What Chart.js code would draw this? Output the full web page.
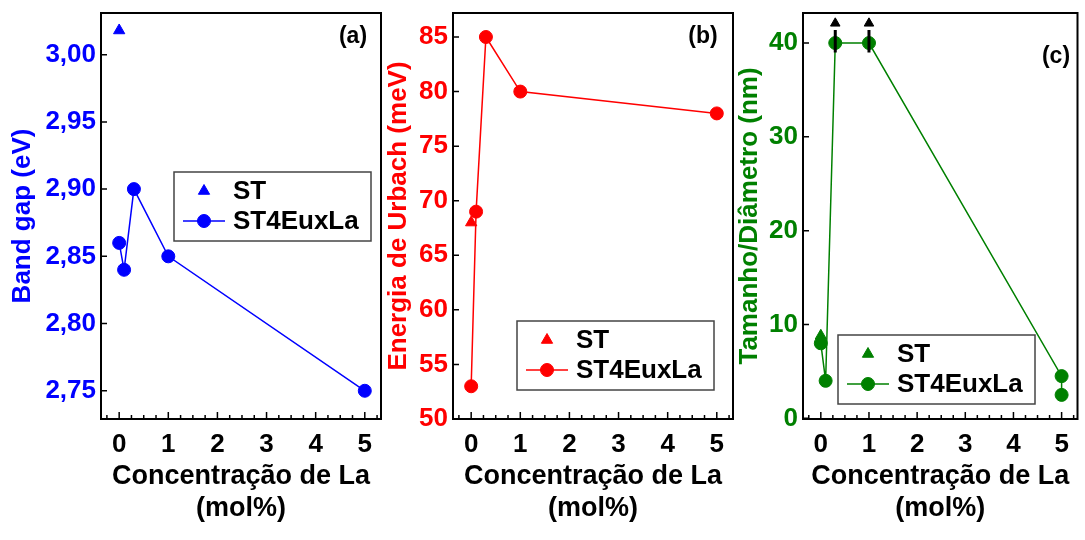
<!DOCTYPE html>
<html>
<head>
<meta charset="utf-8">
<script src="https://cdn.jsdelivr.net/npm/chart.js@4.4.0/dist/chart.umd.min.js"></script>
<style>
  html, body { margin: 0; padding: 0; background: #fff; }
  #wrap { position: relative; width: 1085px; height: 540px; }
  #wrap canvas { position: absolute; left: 0; top: 0; }
</style>
</head>
<body>
<div id="wrap">
  <canvas id="chartA" width="1085" height="540"></canvas>
  <canvas id="chartB" width="1085" height="540"></canvas>
  <canvas id="chartC" width="1085" height="540"></canvas>
</div>
<script>
// La concentration (mol%)
const concST = [0];
const concEuLa = [0, 0.1, 0.3, 1, 5];
const concSize = [0, 0.1, 0.3, 1, 5, 5];
const concTicks = [0, 1, 2, 3, 4, 5];

// (a) band gap (eV)
const bandGapST = [3.018];
const bandGapEuLa = [2.86, 2.84, 2.90, 2.85, 2.75];
const bandGapTicks = [2.75, 2.80, 2.85, 2.90, 2.95, 3.00];

// (b) Urbach energy (meV)
const urbachST = [68];
const urbachEuLa = [53, 69, 85, 80, 78];
const urbachTicks = [50, 55, 60, 65, 70, 75, 80, 85];

// (c) size / diameter (nm)
const sizeST = [8.8];
const sizeEuLa = [8, 4, 40, 40, 4.5, 2.5];
const sizeTicks = [0, 10, 20, 30, 40];
// samples larger than 40 nm -> arrows
const overConc = [0.3, 1];
const overBar = [39, 41.4];
const overHead = [42.1];

const FONT = "'Liberation Sans', Arial, sans-serif";
const BLUE = '#0000ff', RED = '#ff0000', GREEN = '#008000';

const pts = (xs, ys) => xs.map((x, i) => ({ x, y: ys[i] }));

// box + inward ticks
const framePlugin = {
  id: 'frame',
  afterDraw(chart) {
    const { ctx, chartArea: a, scales: { x, y } } = chart;
    ctx.save();
    ctx.strokeStyle = '#000';
    ctx.lineWidth = 1.5;
    ctx.beginPath();
    x.ticks.forEach(t => {
      const px = x.getPixelForValue(t.value);
      ctx.moveTo(px, a.bottom); ctx.lineTo(px, a.bottom - 7);
    });
    for (let v = Math.ceil(x.min * 4) / 4; v <= x.max; v += 0.25) {
      if (Math.abs(v - Math.round(v)) < 1e-6) continue;
      const px = x.getPixelForValue(v);
      ctx.moveTo(px, a.bottom); ctx.lineTo(px, a.bottom - 4);
    }
    y.ticks.forEach(t => {
      const py = y.getPixelForValue(t.value);
      ctx.moveTo(a.left, py); ctx.lineTo(a.left + 6, py);
    });
    ctx.stroke();
    ctx.lineWidth = 2;
    ctx.strokeRect(a.left, a.top, a.right - a.left, a.bottom - a.top);
    ctx.restore();
  }
};

// boxed legend inside the plot
const boxLegend = {
  id: 'boxLegend',
  afterDraw(chart, args, opts) {
    const { ctx } = chart;
    const { left, top, width, height } = opts;
    ctx.save();
    ctx.strokeStyle = '#444';
    ctx.lineWidth = 1.5;
    ctx.strokeRect(left, top, width, height);
    const items = chart.data.datasets.filter(d => d.label);
    items.forEach((d, i) => {
      const cy = top + 19 + i * 30;
      const mx = left + 30;
      ctx.fillStyle = d.backgroundColor;
      ctx.strokeStyle = d.borderColor;
      if (d.showLine) {
        ctx.lineWidth = d.borderWidth;
        ctx.beginPath();
        ctx.moveTo(left + 9, cy); ctx.lineTo(left + 51, cy);
        ctx.stroke();
      }
      ctx.lineWidth = 1;
      Chart.helpers.drawPoint(ctx, { pointStyle: d.pointStyle, radius: d.pointRadius, rotation: 0, borderWidth: 1 }, mx, cy);
      ctx.fillStyle = '#000';
      ctx.font = 'bold 26px ' + FONT;
      ctx.textBaseline = 'middle';
      ctx.textAlign = 'left';
      ctx.fillText(d.label, left + 59, cy + 1);
    });
    ctx.restore();
  }
};

const panelLabel = {
  id: 'panelLabel',
  afterDraw(chart, args, opts) {
    const { ctx } = chart;
    ctx.save();
    ctx.font = 'bold 23px ' + FONT;
    ctx.fillStyle = '#000';
    ctx.textAlign = 'center';
    ctx.textBaseline = 'middle';
    ctx.fillText(opts.text, opts.x, opts.y);
    ctx.restore();
  }
};

function makePanel(id, cfg) {
  const datasets = [
    {
      label: 'ST', data: pts(concST, cfg.st), showLine: false,
      pointStyle: 'triangle', pointRadius: 6.5, pointBorderWidth: 1,
      backgroundColor: cfg.color, borderColor: cfg.color, order: 2
    },
    {
      label: 'ST4EuxLa', data: pts(cfg.conc, cfg.series), showLine: true,
      pointStyle: 'circle', pointRadius: 6.5, pointBorderWidth: 1,
      borderWidth: 1.5, backgroundColor: cfg.color, borderColor: cfg.color, order: 1
    }
  ].concat(cfg.extra || []);

  return new Chart(document.getElementById(id), {
    type: 'scatter',
    data: { datasets },
    options: {
      responsive: false,
      animation: false,
      events: [],
      layout: { padding: { left: cfg.padLeft, right: cfg.padRight, top: 13, bottom: 0 } },
      plugins: {
        legend: { display: false },
        tooltip: { enabled: false },
        boxLegend: cfg.legend,
        panelLabel: cfg.label
      },
      scales: {
        x: {
          type: 'linear', min: -0.37, max: 5.33,
          afterBuildTicks: s => { s.ticks = concTicks.map(v => ({ value: v })); },
          afterFit: s => { s.height = 121; s.paddingLeft = 0; s.paddingRight = 0; },
          grid: { display: false, drawTicks: false },
          border: { display: false },
          ticks: { color: '#000', padding: 10, font: { family: FONT, size: 26, weight: 'bold' } },
          title: {
            display: true, text: ['Concentração de La', '(mol%)'], color: '#000',
            padding: { top: 0, bottom: 15 },
            font: { family: FONT, size: 27, weight: 'bold', lineHeight: 1.2 }
          }
        },
        y: {
          type: 'linear', min: cfg.yMin, max: cfg.yMax,
          afterBuildTicks: s => { s.ticks = cfg.ticks.map(v => ({ value: v })); },
          afterFit: s => { s.width = cfg.yWidth; s.paddingTop = 0; s.paddingBottom = 0; },
          grid: { display: false, drawTicks: false },
          border: { display: false },
          ticks: {
            color: cfg.color, padding: 5,
            font: { family: FONT, size: 26, weight: 'bold' },
            callback: v => v.toFixed(cfg.decimals).replace('.', ',')
          },
          title: {
            display: true, text: cfg.title, color: cfg.color,
            padding: { top: 7, bottom: 0 },
            font: { family: FONT, size: 26, weight: 'bold', lineHeight: 1.2 }
          }
        }
      }
    },
    plugins: [framePlugin, boxLegend, panelLabel]
  });
}

makePanel('chartA', {
  st: bandGapST, conc: concEuLa, series: bandGapEuLa, color: BLUE,
  yMin: 2.729, yMax: 3.031, ticks: bandGapTicks, decimals: 2,
  title: 'Band gap (eV)', padLeft: 0, padRight: 704, yWidth: 101,
  legend: { left: 174, top: 172, width: 197, height: 69 },
  label: { text: '(a)', x: 353, y: 37 }
});

makePanel('chartB', {
  st: urbachST, conc: concEuLa, series: urbachEuLa, color: RED,
  yMin: 50, yMax: 87.2, ticks: urbachTicks, decimals: 0,
  title: 'Energia de Urbach (meV)', padLeft: 376, padRight: 352, yWidth: 77,
  legend: { left: 517, top: 321, width: 197, height: 69 },
  label: { text: '(b)', x: 703, y: 37 }
});

const arrowSets = overConc.map(c => ({
  data: pts([c, c], overBar), showLine: true, borderColor: '#000', borderWidth: 3,
  pointRadius: 0, order: 0
}));
arrowSets.push({
  data: pts(overConc, overConc.map(() => overHead[0])), showLine: false,
  pointStyle: 'triangle', pointRadius: 5.5, backgroundColor: '#000', borderColor: '#000', order: 0
});

makePanel('chartC', {
  st: sizeST, conc: concSize, series: sizeEuLa, color: GREEN,
  yMin: -0.07, yMax: 43.2, ticks: sizeTicks, decimals: 0,
  title: 'Tamanho/Diâmetro (nm)', padLeft: 727, padRight: 2, yWidth: 76,
  legend: { left: 838, top: 335, width: 197, height: 69 },
  label: { text: '(c)', x: 1056, y: 57 },
  extra: arrowSets
});
</script>
</body>
</html>
